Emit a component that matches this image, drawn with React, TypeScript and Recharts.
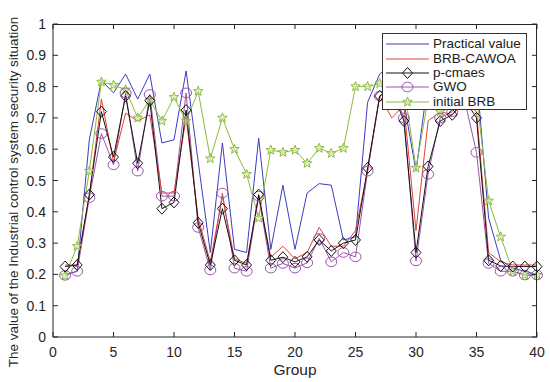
import React from 'react';
import { LineChart, Line, XAxis, YAxis } from 'recharts';

// group index 1..40
const groups = Array.from({ length: 40 }, (_, i) => i + 1);

const practical = [0.20, 0.21, 0.63, 0.82, 0.78, 0.84, 0.76, 0.84, 0.62, 0.63, 0.85, 0.56, 0.27, 0.62, 0.28, 0.27, 0.635, 0.28, 0.485, 0.28, 0.46, 0.49, 0.485, 0.31, 0.32, 0.75, 0.84, 0.87, 0.75, 0.53, 0.82, 0.84, 0.85, 0.86, 0.84, 0.38, 0.245, 0.22, 0.21, 0.20];
const brbCawoa = [0.23, 0.23, 0.45, 0.76, 0.56, 0.715, 0.69, 0.71, 0.46, 0.46, 0.70, 0.38, 0.24, 0.45, 0.25, 0.235, 0.45, 0.255, 0.29, 0.25, 0.27, 0.35, 0.29, 0.29, 0.34, 0.53, 0.77, 0.70, 0.74, 0.34, 0.69, 0.72, 0.71, 0.75, 0.72, 0.27, 0.24, 0.23, 0.23, 0.23];
const pCmaes = [0.225, 0.23, 0.455, 0.72, 0.575, 0.77, 0.555, 0.755, 0.41, 0.43, 0.725, 0.365, 0.23, 0.41, 0.245, 0.23, 0.455, 0.245, 0.255, 0.24, 0.256, 0.31, 0.275, 0.30, 0.31, 0.54, 0.77, 0.79, 0.69, 0.27, 0.545, 0.69, 0.71, 0.76, 0.70, 0.245, 0.227, 0.225, 0.225, 0.225];
const gwo = [0.197, 0.21, 0.445, 0.65, 0.55, 0.78, 0.53, 0.775, 0.45, 0.45, 0.78, 0.35, 0.214, 0.46, 0.22, 0.21, 0.45, 0.22, 0.235, 0.22, 0.237, 0.315, 0.24, 0.27, 0.256, 0.53, 0.77, 0.80, 0.70, 0.243, 0.52, 0.70, 0.72, 0.76, 0.59, 0.235, 0.21, 0.21, 0.198, 0.198];
const initialBrb = [0.196, 0.29, 0.53, 0.815, 0.805, 0.79, 0.70, 0.757, 0.69, 0.766, 0.69, 0.785, 0.57, 0.70, 0.60, 0.52, 0.38, 0.597, 0.59, 0.597, 0.555, 0.603, 0.587, 0.603, 0.80, 0.80, 0.81, 0.82, 0.80, 0.54, 0.76, 0.72, 0.78, 0.80, 0.77, 0.435, 0.32, 0.21, 0.198, 0.198];

const xTicks = [0, 5, 10, 15, 20, 25, 30, 35, 40];
const yTicks = [0, 0.1, 0.2, 0.3, 0.4, 0.5, 0.6, 0.7, 0.8, 0.9, 1];

const data = groups.map((g, i) => ({
  g,
  practical: practical[i],
  brbCawoa: brbCawoa[i],
  pCmaes: pCmaes[i],
  gwo: gwo[i],
  initialBrb: initialBrb[i],
}));

const FONT = '"Liberation Sans", Arial, Helvetica, sans-serif';
const AX = '#262626';
const C = {
  practical: '#3c3cc4',
  brbCawoa: '#e5403a',
  pCmaes: '#141414',
  gwo: '#9a55a8',
  initialBrb: '#8cbb3c',
};

// plot box (MATLAB-style frame with inward ticks on all four sides)
const PLOT_TOP = 24;
const PLOT_RIGHT = 537;

function Diamond({ cx, cy, color }: any) {
  if (cx == null || cy == null) return null;
  return <path d={`M${cx},${cy - 5.5}L${cx + 5},${cy}L${cx},${cy + 5.5}L${cx - 5},${cy}Z`} fill="none" stroke={color} strokeWidth={1} />;
}

function Circle({ cx, cy, color }: any) {
  if (cx == null || cy == null) return null;
  return <ellipse cx={cx} cy={cy} rx={5.5} ry={4.8} fill="none" stroke={color} strokeWidth={1} />;
}

function Star({ cx, cy, color }: any) {
  if (cx == null || cy == null) return null;
  const pts: string[] = [];
  for (let k = 0; k < 10; k++) {
    const r = k % 2 === 0 ? 5 : 2.1;
    const a = -Math.PI / 2 + (k * Math.PI) / 5;
    pts.push(`${(cx + r * Math.cos(a)).toFixed(2)},${(cy + r * Math.sin(a)).toFixed(2)}`);
  }
  return <polygon points={pts.join(' ')} fill="#d9ecb8" fillOpacity={0.6} stroke={color} strokeWidth={1} />;
}

const dotFn = (Shape: any, color: string) => (p: any) => (
  <Shape key={`m-${p.index}`} cx={p.cx} cy={p.cy} color={color} />
);

function BottomTick({ x, y, payload }: any) {
  return (
    <g>
      <line x1={x} x2={x} y1={y} y2={y - 5} stroke={AX} />
      <line x1={x} x2={x} y1={PLOT_TOP} y2={PLOT_TOP + 5} stroke={AX} />
      <text x={x} y={y + 20} textAnchor="middle" fontSize={14} fill={AX} fontFamily={FONT}>
        {payload.value}
      </text>
    </g>
  );
}

function LeftTick({ x, y, payload }: any) {
  return (
    <g>
      <line x1={x} x2={x + 5} y1={y} y2={y} stroke={AX} />
      <line x1={PLOT_RIGHT} x2={PLOT_RIGHT - 5} y1={y} y2={y} stroke={AX} />
      <text x={x - 7} y={y + 5} textAnchor="end" fontSize={14} fill={AX} fontFamily={FONT}>
        {String(Math.round(payload.value * 10) / 10)}
      </text>
    </g>
  );
}

const legendItems = [
  { name: 'Practical value', color: C.practical, shape: null },
  { name: 'BRB-CAWOA', color: C.brbCawoa, shape: null },
  { name: 'p-cmaes', color: C.pCmaes, shape: Diamond },
  { name: 'GWO', color: C.gwo, shape: Circle },
  { name: 'initial BRB', color: C.initialBrb, shape: Star },
];

function LegendBox() {
  return (
    <div
      style={{
        position: 'absolute',
        left: 382,
        top: 33,
        width: 143,
        height: 72,
        background: '#fff',
        border: '1px solid #333',
        fontFamily: FONT,
        fontSize: 13.5,
        color: '#1a1a1a',
        paddingTop: 3,
      }}
    >
      {legendItems.map((it) => (
        <div key={it.name} style={{ display: 'flex', alignItems: 'center', height: 14.4 }}>
          <svg width={50} height={14} style={{ flex: 'none' }}>
            <line x1={3} x2={46} y1={7} y2={7} stroke={it.color} strokeWidth={1} />
            {it.shape ? <it.shape cx={24.5} cy={7} color={it.color} /> : null}
          </svg>
          <span style={{ lineHeight: '14px' }}>{it.name}</span>
        </div>
      ))}
    </div>
  );
}

export default function App() {
  return (
    <div style={{ position: 'absolute', left: 0, top: 0, width: 550, height: 382, background: '#fff' }}>
      <LineChart width={550} height={382} data={data} margin={{ top: PLOT_TOP, right: 550 - PLOT_RIGHT, bottom: 0, left: 13 }}>
        <XAxis
          dataKey="g"
          type="number"
          domain={[0, 40]}
          ticks={xTicks}
          tickSize={0}
          tickMargin={0}
          tickLine={false}
          axisLine={{ stroke: AX }}
          tick={<BottomTick />}
          height={45}
          interval={0}
          label={{
            content: () => (
              <text x={295} y={375} textAnchor="middle" fontSize={15.5} fill={AX} fontFamily={FONT}>
                Group
              </text>
            ),
          }}
        />
        <YAxis
          type="number"
          domain={[0, 1]}
          ticks={yTicks}
          tickSize={0}
          tickMargin={0}
          tickLine={false}
          axisLine={{ stroke: AX }}
          tick={<LeftTick />}
          width={40}
          interval={0}
          label={{
            content: () => (
              <text transform="translate(18,192) rotate(-90)" textAnchor="middle" fontSize={13.5} fill={AX} fontFamily={FONT}>
                The value of the Industrial control system security situation
              </text>
            ),
          }}
        />
        <Line dataKey="practical" name="Practical value" stroke={C.practical} strokeWidth={1} dot={false} isAnimationActive={false} />
        <Line dataKey="initialBrb" name="initial BRB" stroke={C.initialBrb} strokeWidth={1} dot={dotFn(Star, C.initialBrb)} isAnimationActive={false} />
        <Line dataKey="gwo" name="GWO" stroke={C.gwo} strokeWidth={1} dot={dotFn(Circle, C.gwo)} isAnimationActive={false} />
        <Line dataKey="brbCawoa" name="BRB-CAWOA" stroke={C.brbCawoa} strokeWidth={1} dot={false} isAnimationActive={false} />
        <Line dataKey="pCmaes" name="p-cmaes" stroke={C.pCmaes} strokeWidth={1} dot={dotFn(Diamond, C.pCmaes)} isAnimationActive={false} />
      </LineChart>
      <div
        style={{
          position: 'absolute',
          left: 53,
          top: PLOT_TOP,
          width: PLOT_RIGHT - 53,
          height: 313,
          borderTop: `1px solid ${AX}`,
          borderRight: `1px solid ${AX}`,
          boxSizing: 'border-box',
          pointerEvents: 'none',
          marginTop: -0.5,
        }}
      />
      <LegendBox />
    </div>
  );
}
